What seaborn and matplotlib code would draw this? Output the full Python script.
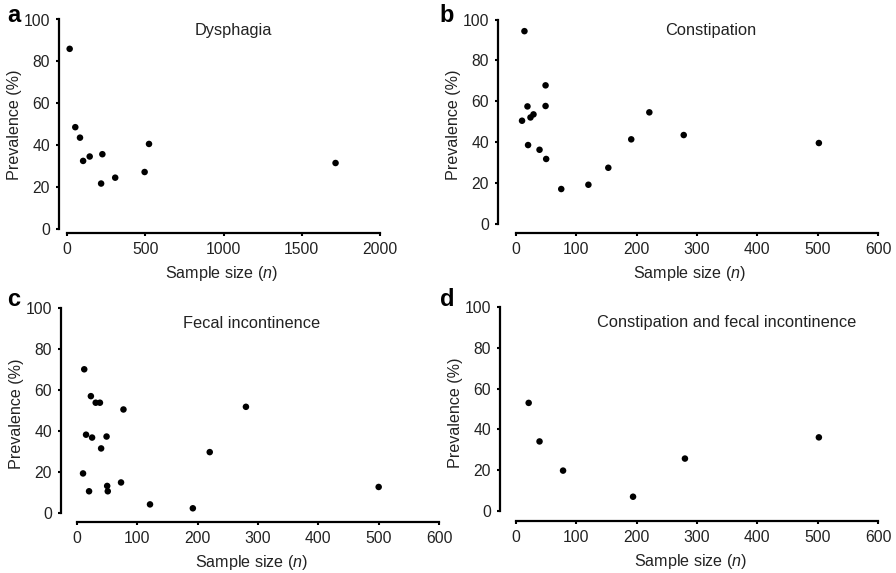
import matplotlib
matplotlib.use('Agg')
import matplotlib.pyplot as plt
import pandas as pd
import seaborn as sns

# Prevalence (%) against sample size (n).
dysphagia_n = [17, 53, 83, 103, 145, 226, 218, 308, 496, 524, 1716]
dysphagia_prev = [86, 48.6, 43.6, 32.5, 34.6, 35.7, 21.7, 24.5, 27.2, 40.6, 31.5]

constipation_n = [14, 19, 10, 24, 29, 49, 49, 20, 39, 50, 75, 120, 153, 191, 221, 278, 502]
constipation_prev = [94.3, 57.5, 50.5, 52.1, 53.6, 67.8, 57.7, 38.6, 36.3, 31.8,
                     17.1, 19.2, 27.5, 41.4, 54.6, 43.5, 39.6]

fecal_n = [12, 23, 31, 38, 77, 15, 25, 49, 40, 10, 20, 50, 51, 73, 121, 192, 220, 280, 500]
fecal_prev = [70.1, 57.0, 53.8, 53.8, 50.5, 38.2, 36.8, 37.3, 31.5, 19.3, 10.6,
              13.2, 10.6, 14.9, 4.2, 2.3, 29.7, 51.8, 12.7]

both_n = [21, 39, 78, 194, 280, 502]
both_prev = [53, 34.1, 19.8, 7.0, 25.7, 36.1]

titles = ['Dysphagia', 'Constipation', 'Fecal incontinence',
          'Constipation and fecal incontinence']
letters = ['a', 'b', 'c', 'd']
x_max = [2000, 600, 600, 600]
x_ticks = [[0, 500, 1000, 1500, 2000], [0, 100, 200, 300, 400, 500, 600],
           [0, 100, 200, 300, 400, 500, 600], [0, 100, 200, 300, 400, 500, 600]]
y_ticks = [0, 20, 40, 60, 80, 100]

panels = [(dysphagia_n, dysphagia_prev), (constipation_n, constipation_prev),
          (fecal_n, fecal_prev), (both_n, both_prev)]

# Pixel geometry of each panel: y spine x, x=0 px, x=max px, y=100 px, y=0 px, x spine y
geometry = [
    (59, 67, 380, 19.5, 229, 233),
    (498, 516, 878, 19.5, 224, 233),
    (61, 77, 439, 308, 513, 522),
    (500, 516, 878, 307, 511, 521),
]
# title centre in pixels, letter position in pixels
title_px = [(233, 30), (711, 31), (252, 323), (727, 323)]
letter_px = [(7, 22), (439, 22), (7, 306), (440, 306)]

W, H = 896, 573

sns.set_style('ticks')
plt.rcParams['font.family'] = ['Liberation Sans', 'DejaVu Sans']
plt.rcParams['mathtext.fontset'] = 'custom'
plt.rcParams['mathtext.it'] = 'Liberation Sans:italic'
plt.rcParams['mathtext.rm'] = 'Liberation Sans'

fig = plt.figure(figsize=(W / 100, H / 100), dpi=100)

for i, (xs, ys) in enumerate(panels):
    sx, x0, x1, y100, y0, bx = geometry[i]
    left = sx / W
    right_px = x1 + 4
    top_px = y100 - 2
    ax = fig.add_axes([left, 1 - bx / H, (right_px - sx) / W, (bx - top_px) / H])

    df = pd.DataFrame({'n': xs, 'prev': ys})
    sns.scatterplot(data=df, x='n', y='prev', ax=ax, color='black', s=22,
                    edgecolor='none', linewidth=0)

    ppx = (x1 - x0) / x_max[i]
    ppy = (y0 - y100) / 100
    ax.set_xlim(-(x0 - sx) / ppx, x_max[i] + 4 / ppx)
    ax.set_ylim(-(bx - y0) / ppy, 100 + 2 / ppy)
    ax.set_xticks(x_ticks[i])
    ax.set_yticks(y_ticks)
    ax.tick_params(direction='out', length=2.5, width=1.5, labelsize=11.3,
                   color='black', labelcolor='#222222', pad=4)
    for side in ['top', 'right']:
        ax.spines[side].set_visible(False)
    ax.spines['left'].set_bounds(0, 100)
    ax.spines['bottom'].set_bounds(0, x_max[i])
    for side in ['left', 'bottom']:
        ax.spines[side].set_linewidth(1.6)
        ax.spines[side].set_color('black')

    ax.set_xlabel('Sample size ($\\mathit{n}$)', fontsize=11.6, labelpad=5, color='#222222')
    ax.set_ylabel('Prevalence (%)', fontsize=11.6, labelpad=1, color='#222222')

    tx, ty = title_px[i]
    fig.text(tx / W, 1 - ty / H, titles[i], ha='center', va='center',
             fontsize=11.8, color='#222222')
    lx, ly = letter_px[i]
    fig.text(lx / W, 1 - ly / H, letters[i], ha='left', va='baseline',
             fontsize=17, fontweight='bold', color='black')

fig.savefig('out.png', dpi=100)
